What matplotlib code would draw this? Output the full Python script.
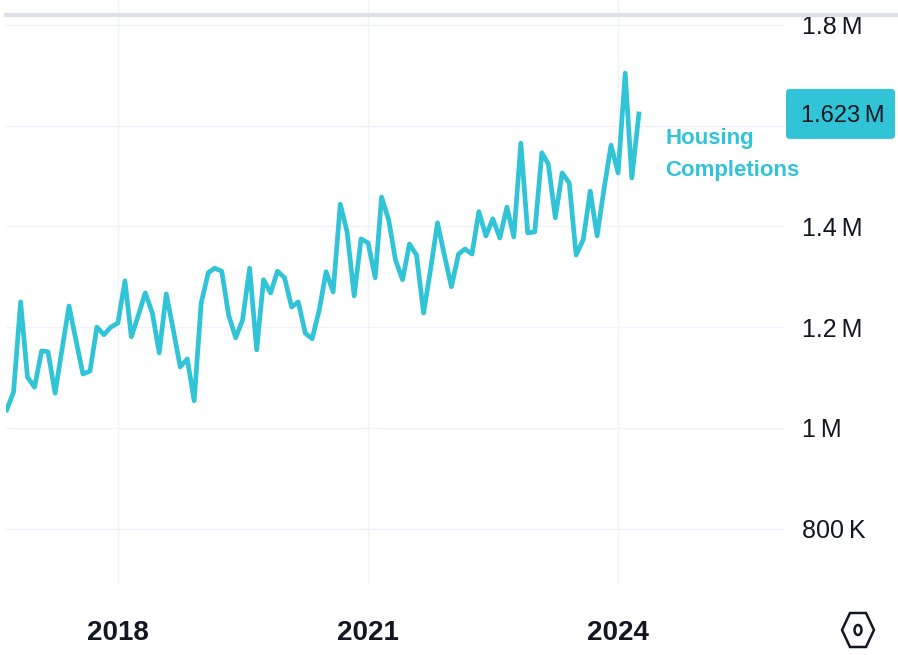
import matplotlib
matplotlib.use("Agg")
import matplotlib.pyplot as plt
import matplotlib.transforms as mtransforms
from matplotlib.patches import FancyBboxPatch, Polygon, Ellipse, Rectangle
from matplotlib.lines import Line2D
import pandas as pd

# housing completions, thousands of units (annual rate), monthly Sep 2016 - Apr 2024
completions = [
    1036, 1071, 1250, 1101, 1081, 1153, 1151, 1069, 1155, 1242,
    1175, 1107, 1113, 1200, 1185, 1200, 1208, 1292, 1181, 1224,
    1268, 1228, 1149, 1266, 1194, 1121, 1137, 1054, 1248, 1308,
    1317, 1311, 1224, 1179, 1214, 1317, 1155, 1294, 1268, 1311,
    1298, 1240, 1250, 1188, 1177, 1234, 1310, 1270, 1444, 1389,
    1262, 1375, 1367, 1298, 1458, 1413, 1333, 1294, 1365, 1343,
    1228, 1313, 1407, 1343, 1280, 1345, 1355, 1345, 1429, 1381,
    1415, 1377, 1438, 1379, 1565, 1387, 1389, 1546, 1524, 1417,
    1506, 1486, 1343, 1373, 1470, 1381, 1476, 1561, 1506, 1704,
    1496, 1623,
]
dates = pd.date_range("2016-09-01", periods=len(completions), freq="MS")

y_ticks = [800, 1000, 1200, 1400, 1600, 1800]
y_labels = ["800\u2009K", "1\u2009M", "1.2\u2009M", "1.4\u2009M", "1.6\u2009M", "1.8\u2009M"]
x_years = [2018, 2021, 2024]
series_name = "Housing\nCompletions"
last_label = "1.623\u2009M"

LINE = "#30c4d6"
TXT = "#131722"
GRID = "#f0f3fa"

plt.rcParams["font.family"] = ["Liberation Sans", "DejaVu Sans"]

W, H = 898, 655
fig = plt.figure(figsize=(W / 100, H / 100), dpi=100)
ax = fig.add_axes([6 / W, 70 / H, 779 / W, 585 / H])

ax.plot(dates, completions, color=LINE, lw=3.4, solid_joinstyle="round", zorder=3)

ax.set_xlim(pd.Timestamp("2016-08-29"), pd.Timestamp("2026-01-01"))
ax.set_ylim(688.5, 1849)
ax.set_xticks([pd.Timestamp(f"{y}-01-01") for y in x_years])
ax.set_xticklabels([str(y) for y in x_years], fontsize=20, fontweight="bold", color=TXT)
ax.set_yticks(y_ticks)
ax.set_yticklabels(y_labels, fontsize=18, color=TXT)
ax.yaxis.tick_right()
ax.tick_params(axis="y", length=0, pad=12)
ax.tick_params(axis="x", length=0, pad=25)
ax.grid(True, color=GRID, lw=1)
for s in ax.spines.values():
    s.set_visible(False)

# label next to the end of the line
ax.annotate(series_name, xy=(dates[-1], completions[-1]), xytext=(19, -10),
            textcoords="offset points", ha="left", va="top", fontsize=16,
            fontweight="bold", color=LINE, linespacing=1.7, annotation_clip=False)

# last value badge on the price scale
ident = mtransforms.IdentityTransform()
ypix = ax.transData.transform((0, completions[-1]))[1]
badge = FancyBboxPatch((786, ypix - 25), 109, 50, boxstyle="round,pad=0,rounding_size=4",
                       facecolor=LINE, edgecolor="none", transform=ident, zorder=10)
fig.add_artist(badge)
fig.text(843, ypix, last_label, transform=ident, ha="center", va="center_baseline",
         fontsize=17, color=TXT, zorder=11)

# top separator, hides the top of the 1.8M label
fig.add_artist(Rectangle((785, H - 13), W - 785, 13, facecolor="white", edgecolor="none",
                         transform=ident, zorder=12))
fig.add_artist(Line2D([6, W], [H - 15, H - 15], color="#dde0e8", lw=3, transform=ident, zorder=13))

# settings icon bottom right
hexa = Polygon([(842, 25), (850, 42), (866, 42), (874, 25), (866, 8), (850, 8)],
               closed=True, fill=False, edgecolor=TXT, lw=1.8, transform=ident)
fig.add_artist(hexa)
fig.add_artist(Ellipse((858, 25), 7, 10, fill=False, edgecolor=TXT, lw=1.8, transform=ident))

fig.savefig("out.png", dpi=100, facecolor="white")
